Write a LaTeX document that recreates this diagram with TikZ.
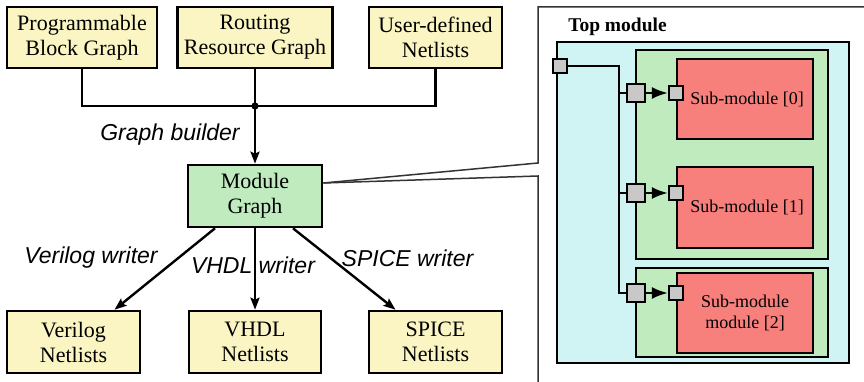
\documentclass[tikz,border=0pt]{standalone}
\usepackage{fontspec}
\setmainfont{Liberation Serif}
\setsansfont{Liberation Sans}
\usetikzlibrary{arrows.meta}

\definecolor{boxyellow}{HTML}{FAF5C3}
\definecolor{boxgreen}{HTML}{BFEBBF}
\definecolor{boxcyan}{HTML}{D0F3F3}
\definecolor{boxred}{HTML}{F7807D}
\definecolor{portgray}{HTML}{C8C8C8}
\definecolor{framegray}{HTML}{333333}

\tikzset{
  flowbox/.style={draw=black, line width=2.6pt, inner sep=0pt, align=center,
    font=\fontsize{22}{25}\selectfont},
  ybox/.style={flowbox, fill=boxyellow},
  gbox/.style={flowbox, fill=boxgreen},
  steplabel/.style={font=\sffamily\itshape\fontsize{23}{25}\selectfont, inner sep=0pt},
  wire/.style={line width=2.4pt},
  flowarrow/.style={wire, -{Stealth[length=12pt,width=9pt,inset=2pt]}},
  modbox/.style={draw=black, line width=2.4pt, inner sep=0pt, align=center,
    font=\fontsize{18}{21}\selectfont},
  port/.style={draw=black, line width=2.2pt, fill=portgray, inner sep=0pt},
  portarrow/.style={wire, -{Latex[length=16pt,width=12pt]}},
  zoomline/.style={draw=framegray, line width=1.5pt}
}

\begin{document}
\begin{tikzpicture}[x=1pt,y=-1pt]
\useasboundingbox (0,0) rectangle (864,382);

% ---------- tool flow ----------
\node[ybox, minimum width=150pt, minimum height=61pt] (pbg) at (82,37.5) {Programmable\\Block Graph};
\node[ybox, minimum width=155pt, minimum height=61pt] (rrg) at (255,37.5) {Routing\\Resource Graph};
\node[ybox, minimum width=133pt, minimum height=61pt] (udn) at (435.5,37.5) {User-defined\\Netlists};

\coordinate (bus) at (255,106);
\draw[wire] (pbg.south) |- (bus);
\draw[wire] (udn.south) |- (bus);
\draw[wire] (rrg.south) -- (bus);
\fill (bus) circle (3.6pt);

\node[gbox, minimum width=134pt, minimum height=62pt] (mg) at (255,196) {Module\\Graph};
\draw[flowarrow] (bus) -- (mg.north);
\node[steplabel] (gb) at (170,135) {Graph builder};

\node[ybox, minimum width=133pt, minimum height=62pt] (vn) at (73.5,342) {Verilog\\Netlists};
\node[ybox, minimum width=132pt, minimum height=62pt] (hn) at (255,342) {VHDL\\Netlists};
\node[ybox, minimum width=133pt, minimum height=62pt] (sn) at (435.5,342) {SPICE\\Netlists};

\draw[flowarrow] ([xshift=-40pt]mg.south) -- ([xshift=41pt]vn.north);
\draw[flowarrow] (mg.south) -- (hn.north);
\draw[flowarrow] ([xshift=38pt]mg.south) -- ([xshift=-40pt]sn.north);

\node[steplabel] (vw) at (91,258) {Verilog writer};
\node[steplabel] (hw) at (253,265) {VHDL writer};
\node[steplabel] (sw) at (407.5,258) {SPICE writer};

% ---------- magnified view of the module graph ----------
\coordinate (zt) at (538,163);
\coordinate (zb) at (538,176);
\draw[zoomline] ([yshift=13pt]mg.east) -- (zt) -- (538,7) -- (870,7);
\draw[zoomline] ([yshift=13pt]mg.east) -- (zb) -- (538,390);

\node[font=\bfseries\fontsize{19.5}{21}\selectfont, inner sep=0pt] (topname) at (617.5,27) {Top module};

\node[modbox, fill=boxcyan, minimum width=292pt, minimum height=321pt] (top) at (703,202.5) {};
\node[modbox, fill=boxgreen, minimum width=192pt, minimum height=209pt] (g1) at (732,154.5) {};
\node[modbox, fill=boxgreen, minimum width=192pt, minimum height=89pt] (g2) at (732,312.5) {};
\node[modbox, fill=boxred, minimum width=136pt, minimum height=80pt] (s0) at (745,99) {\hspace*{4pt}Sub-module [0]};
\node[modbox, fill=boxred, minimum width=136pt, minimum height=81pt] (s1) at (745,207.5) {\hspace*{4pt}Sub-module [1]};
\node[modbox, fill=boxred, minimum width=136pt, minimum height=80pt] (s2) at (745,313) {Sub-module\\module [2]};

% port positions
\coordinate (cpt) at (560,66);
\coordinate (cg0) at (636,93);
\coordinate (cg1) at (636,193);
\coordinate (cg2) at (636,293);
\coordinate (fan) at (619,66);

% fan-out wiring from the top-level port (drawn under the ports)
\draw[wire] (cpt) -- (fan) |- (cg2);
\draw[wire] (fan |- cg0) -- (cg0);
\draw[wire] (fan |- cg1) -- (cg1);

% ports
\node[port, minimum size=14pt] (pt) at (cpt) {};
\node[port, minimum size=18pt] (pg0) at (cg0) {};
\node[port, minimum size=18pt] (pg1) at (cg1) {};
\node[port, minimum size=18pt] (pg2) at (cg2) {};
\node[port, minimum size=14pt] (ps0) at (676,93) {};
\node[port, minimum size=14pt] (ps1) at (676,193) {};
\node[port, minimum size=14pt] (ps2) at (676,293) {};

\draw[portarrow] (pg0.east) -- (ps0.west);
\draw[portarrow] (pg1.east) -- (ps1.west);
\draw[portarrow] (pg2.east) -- (ps2.west);
\end{tikzpicture}
\end{document}
